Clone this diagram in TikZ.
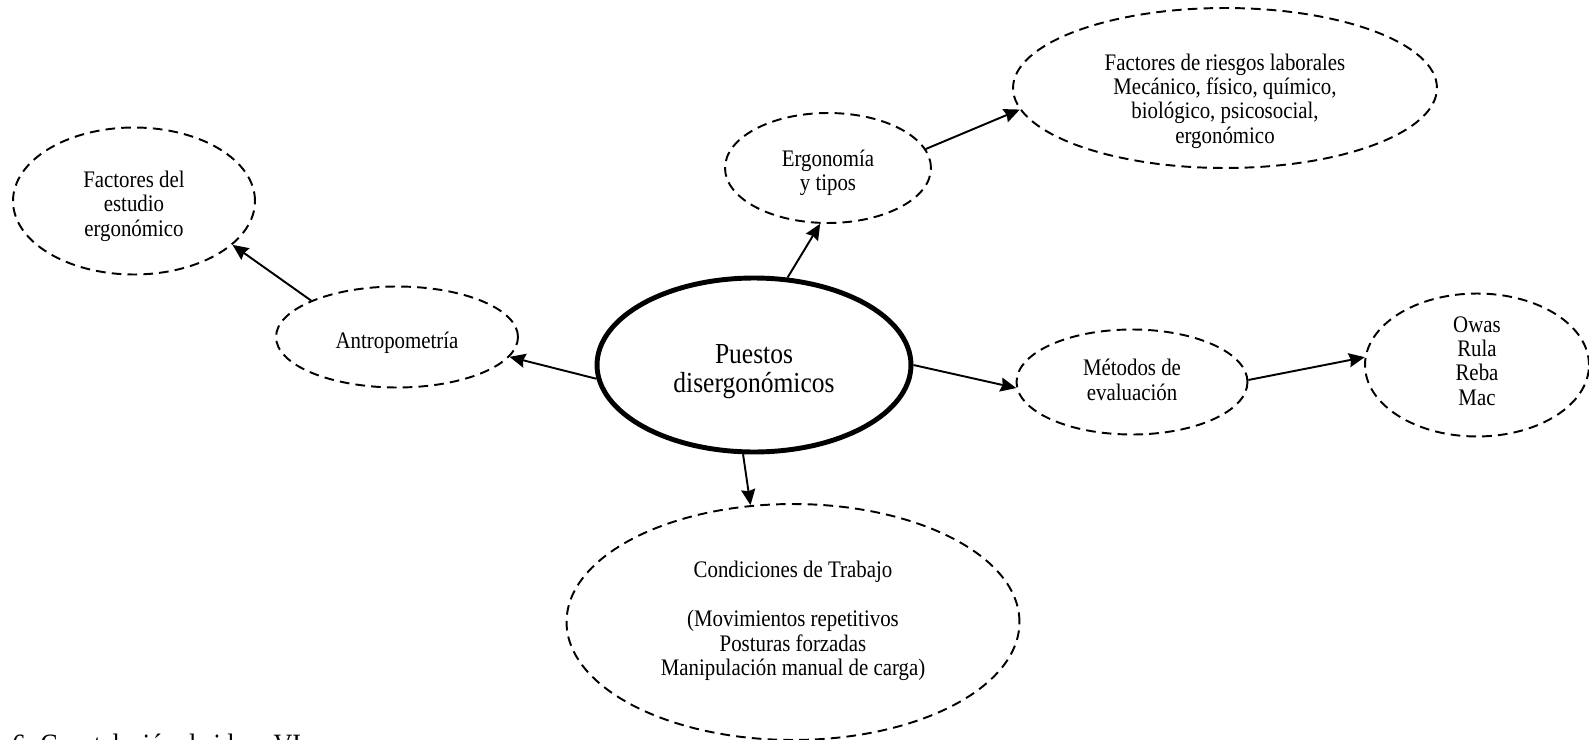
\documentclass[tikz,border=0pt]{standalone}
\usepackage{fontspec}
\setmainfont{Liberation Serif}[FakeStretch=0.88]
\usetikzlibrary{shapes.geometric,arrows.meta}

\begin{document}
\begin{tikzpicture}[x=0.02cm,y=-0.02cm,
		idea/.style={ellipse,draw,dash pattern=on 5.5pt off 3.5pt,line width=1.1pt,inner sep=0pt},
		tema/.style={ellipse,draw,line width=2.8pt,inner sep=0pt},
		texto/.style={align=center,inner sep=0pt,font=\fontsize{13.5}{13.9}\selectfont},
		flecha/.style={line width=1.1pt,-{Stealth[length=9pt,width=8pt,inset=1pt]}}]
			\useasboundingbox (0,0) rectangle (1589,740);
			% elipses
			\node[tema,minimum width=6.28cm,minimum height=3.48cm] (P) at (754,365) {};
			\node[idea,minimum width=4.84cm,minimum height=2.02cm] (A) at (397,337) {};
			\node[idea,minimum width=4.84cm,minimum height=2.94cm] (F) at (134,201) {};
			\node[idea,minimum width=4.12cm,minimum height=2.2cm] (E) at (828,168) {};
			\node[idea,minimum width=8.48cm,minimum height=3.2cm] (R) at (1225,88) {};
			\node[idea,minimum width=4.62cm,minimum height=2.1cm] (M) at (1132,382) {};
			\node[idea,minimum width=4.48cm,minimum height=2.86cm] (O) at (1477,365) {};
			\node[idea,minimum width=9.06cm,minimum height=4.72cm] (C) at (793,622) {};
			% textos
			\node[texto,font=\fontsize{16.5}{16.5}\selectfont] (tP) at (754,372) {Puestos\\disergonómicos};
			\node[texto] (tA) at (397,343) {Antropometría};
			\node[texto] (tF) at (134,206) {Factores del\\estudio\\ergonómico};
			\node[texto] (tE) at (828,173) {Ergonomía\\y tipos};
			\node[texto] (tR) at (1225,101) {Factores de riesgos laborales\\Mecánico, físico, químico,\\biológico, psicosocial,\\ergonómico};
			\node[texto] (tM) at (1132,380) {Métodos de\\evaluación};
			\node[texto] (tO) at (1477,361) {Owas\\Rula\\Reba\\Mac};
			\node[texto] (tC) at (793,621) {Condiciones de Trabajo\\[13.9pt](Movimientos repetitivos\\Posturas forzadas\\Manipulación manual de carga)};
			% flechas
			\draw[flecha] (P.185) -- (A.350);
			\draw[flecha] (A.157) -- (F.336);
			\draw[flecha] (P.69) -- (E.262);
			\draw[flecha] (E.11) -- (R.186);
			\draw[flecha] (P.0) -- (M.183);
			\draw[flecha] (M.1) -- (O.176);
			\draw[flecha] (P.263) -- (C.110);
			% pie
			\node[anchor=base west,font=\fontsize{16.8}{18}\selectfont,inner sep=0pt] (pie) at (12,754) {6. Constelación de ideas VI};
		\end{tikzpicture}
\end{document}
